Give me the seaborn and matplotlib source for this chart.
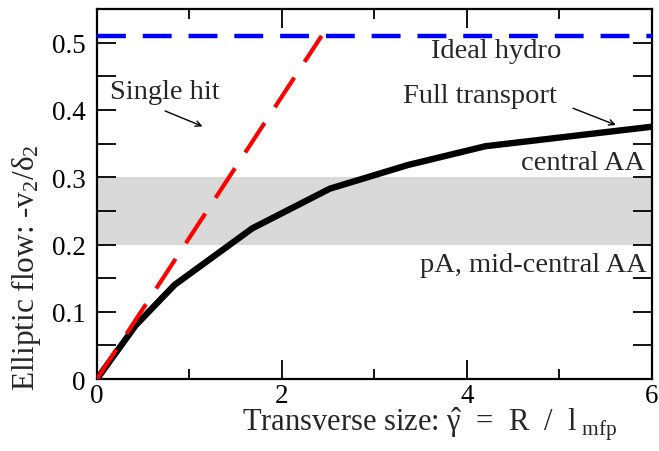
import numpy as np
import pandas as pd
import matplotlib
matplotlib.use("Agg")
import matplotlib.pyplot as plt
import seaborn as sns

# Full kinetic transport result: elliptic flow response vs transverse size
size_full = [0.0, 0.42, 0.84, 1.68, 2.52, 3.36, 4.2, 6.0]
flow_full = [0.0, 0.080, 0.140, 0.224, 0.283, 0.318, 0.346, 0.375]

# Single-hit (dilute) limit: linear in size, up to the ideal hydro value
size_single = [0.0, 2.43]
flow_single = [0.0, 0.51]

# Ideal hydrodynamics limit
size_hydro = [0.0, 6.0]
flow_hydro = [0.51, 0.51]

# Shaded band of measured values
band_low, band_high = 0.2, 0.3

sns.set_style("ticks")
plt.rcParams["font.family"] = ["Liberation Serif", "DejaVu Serif"]
plt.rcParams["mathtext.fontset"] = "custom"
plt.rcParams["mathtext.rm"] = "Liberation Serif"
plt.rcParams["mathtext.it"] = "Liberation Serif"
plt.rcParams["mathtext.bf"] = "Liberation Serif:bold"

fig = plt.figure(figsize=(6.59, 4.52), dpi=100)
ax = fig.add_axes([0.147, 0.159, 0.842, 0.819])

ax.axhspan(band_low, band_high, color="#d9d9d9", lw=0, zorder=0)

df_full = pd.DataFrame({"x": size_full, "y": flow_full})
df_single = pd.DataFrame({"x": size_single, "y": flow_single})
df_hydro = pd.DataFrame({"x": size_hydro, "y": flow_hydro})

sns.lineplot(data=df_hydro, x="x", y="y", ax=ax, color="#0000ff", lw=3.2,
             zorder=3)
ax.lines[-1].set_dashes([6.5, 3.8])
sns.lineplot(data=df_full, x="x", y="y", ax=ax, color="black", lw=4.6,
             zorder=4)
sns.lineplot(data=df_single, x="x", y="y", ax=ax, color="#ff0000", lw=3.0,
             zorder=5)
ax.lines[-1].set_dashes([8.5, 4.5])

ax.set_xlim(0, 6)
ax.set_ylim(0, 0.55)
ax.set_xticks([0, 2, 4, 6])
ax.set_xticklabels(["0", "2", "4", "6"])
ax.set_xticks([1, 3, 5], minor=True)
ax.set_yticks([0, 0.1, 0.2, 0.3, 0.4, 0.5])
ax.set_yticklabels(["0", "0.1", "0.2", "0.3", "0.4", "0.5"])
ax.set_yticks(np.arange(0.05, 0.55, 0.1), minor=True)

ax.tick_params(axis="both", which="both", direction="in", top=True,
               right=True, width=1.3, labelsize=19.5, colors="black")
ax.tick_params(axis="x", which="major", length=14, pad=3)
ax.tick_params(axis="x", which="minor", length=7)
ax.tick_params(axis="y", which="both", length=14, pad=8)
for sp in ax.spines.values():
    sp.set_linewidth(1.6)
    sp.set_color("black")

ax.set_xlabel(r"Transverse size: $\hat{\gamma}$  =  R  /  l$_{\ \rm mfp}$",
              fontsize=22)
ax.xaxis.label.set_va("baseline")
ax.xaxis.set_label_coords(0.6, -0.138)
ax.set_ylabel(r"Elliptic flow: -v$_2$/$\delta_2$", fontsize=22.5)
ax.yaxis.set_label_coords(-0.097, 0.305)

fs = 20.5
ax.text(4.32, 0.488, "Ideal hydro", fontsize=fs, ha="center", va="center")
ax.text(4.14, 0.422, "Full transport", fontsize=fs, ha="center", va="center")
ax.text(0.74, 0.428, "Single hit", fontsize=fs, ha="center", va="center")
ax.text(5.93, 0.322, "central AA", fontsize=fs, ha="right", va="center")
ax.text(5.95, 0.170, "pA, mid-central AA", fontsize=fs, ha="right", va="center")

arrow = dict(arrowstyle="->", color="black", lw=1.0)
ax.annotate("", xy=(1.17, 0.374), xytext=(0.71, 0.40), arrowprops=arrow)
ax.annotate("", xy=(5.64, 0.376), xytext=(5.12, 0.404), arrowprops=arrow)

fig.savefig("out.png", dpi=100)
